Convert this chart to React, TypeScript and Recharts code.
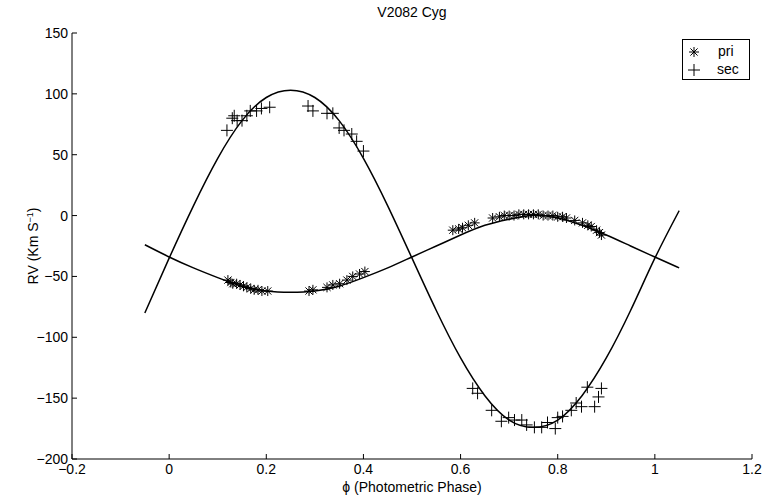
import React from 'react';
import {
  ComposedChart,
  Line,
  Scatter,
  XAxis,
  YAxis,
  Label,
} from 'recharts';

// model curves
const curvePhase = [
  -0.05, 0, 0.05, 0.1, 0.15, 0.2, 0.25, 0.3, 0.35, 0.4, 0.45, 0.5, 0.55, 0.6,
  0.65, 0.7, 0.75, 0.8, 0.85, 0.9, 0.95, 1.0, 1.05,
];
const priCurve = [
  -24, -34, -43, -51, -58, -62, -63, -62, -58, -51, -43, -34, -25, -16, -8, -3,
  0, -2, -8, -16, -25, -34, -43,
];
const secCurve = [
  -80, -35, 8, 47, 78, 97, 103, 97, 78, 47, 8, -35, -78, -117, -148, -168,
  -174, -168, -148, -117, -78, -35, 4,
];

// observed radial velocities
const priPhase = [
  0.121, 0.127, 0.131, 0.139, 0.146, 0.153, 0.16, 0.168, 0.175, 0.183, 0.191,
  0.203, 0.288, 0.296, 0.325, 0.337, 0.351, 0.366, 0.378, 0.392, 0.403, 0.584,
  0.596, 0.604, 0.616, 0.629, 0.666, 0.68, 0.69, 0.7, 0.71, 0.72, 0.73, 0.74,
  0.75, 0.76, 0.77, 0.78, 0.79, 0.8, 0.81, 0.818, 0.835, 0.851, 0.862, 0.869,
  0.88, 0.886, 0.89,
];
const priRV = [
  -53, -55, -56, -56, -57, -58, -59, -60, -61, -61, -62, -62, -62, -61, -59,
  -57, -56, -53, -50, -48, -46, -12, -11, -10, -8, -6, -2, -1, 0, 0, 0, 1, 1, 1,
  1, 1, 0, 0, 0, -1, -1, -2, -4, -6, -8, -9, -12, -14, -16,
];
const secPhase = [
  0.119, 0.13, 0.134, 0.14, 0.15, 0.16, 0.167, 0.18, 0.19, 0.207, 0.286, 0.296,
  0.325, 0.337, 0.35, 0.36, 0.376, 0.386, 0.4, 0.625, 0.635, 0.664, 0.684,
  0.699, 0.711, 0.726, 0.736, 0.752, 0.767, 0.779, 0.795, 0.8, 0.81, 0.828,
  0.838, 0.849, 0.861, 0.876, 0.884, 0.89,
];
const secRV = [
  70, 80, 82, 78, 78, 82, 86, 86, 88, 89, 90, 86, 84, 84, 72, 70, 67, 61, 53,
  -142, -146, -160, -169, -166, -168, -168, -172, -174, -174, -170, -175, -166,
  -165, -160, -154, -157, -141, -157, -149, -142,
];

const xTicks = [-0.2, 0, 0.2, 0.4, 0.6, 0.8, 1, 1.2];
const yTicks = [-200, -150, -100, -50, 0, 50, 100, 150];

const priLine = curvePhase.map((x, i) => ({ x, y: priCurve[i] }));
const secLine = curvePhase.map((x, i) => ({ x, y: secCurve[i] }));
const priPts = priPhase.map((x, i) => ({ x, y: priRV[i] }));
const secPts = secPhase.map((x, i) => ({ x, y: secRV[i] }));

const font = '"Liberation Sans", Arial, Helvetica, sans-serif';
const fmt = (v: number) => String(Number(v.toFixed(1))).replace('-', '\u2212');

const Star = ({ cx, cy }: any) => {
  const r = 5;
  const d = 3.6;
  return (
    <g stroke='#000' strokeWidth={1}>
      <line x1={cx - r} y1={cy} x2={cx + r} y2={cy} />
      <line x1={cx} y1={cy - r} x2={cx} y2={cy + r} />
      <line x1={cx - d} y1={cy - d} x2={cx + d} y2={cy + d} />
      <line x1={cx - d} y1={cy + d} x2={cx + d} y2={cy - d} />
    </g>
  );
};

const Plus = ({ cx, cy }: any) => {
  const r = 6;
  return (
    <g stroke='#000' strokeWidth={1}>
      <line x1={cx - r} y1={cy} x2={cx + r} y2={cy} />
      <line x1={cx} y1={cy - r} x2={cx} y2={cy + r} />
    </g>
  );
};

const YLabel = () => (
  <text
    x={0}
    y={0}
    transform='translate(38,246) rotate(-90)'
    textAnchor='middle'
    fontSize={14}
    fontFamily={font}
    fill='#000'
  >
    RV (Km S
    <tspan dy={-5} fontSize={9}>
      {'\u22121'}
    </tspan>
    <tspan dy={5}>)</tspan>
  </text>
);

const App = () => {
  return (
    <div
      style={{
        position: 'absolute',
        left: 0,
        top: 0,
        width: 766,
        height: 502,
        background: '#fff',
        fontFamily: font,
      }}
    >
      <ComposedChart
        width={766}
        height={502}
        margin={{ top: 33, right: 14, bottom: 13, left: 12 }}
      >
        <XAxis
          type='number'
          dataKey='x'
          domain={[-0.2, 1.2]}
          ticks={xTicks}
          interval={0}
          allowDataOverflow
          height={30}
          tickSize={-5}
          tickMargin={10}
          tickFormatter={fmt}
          stroke='#000'
          tick={{ fill: '#000', fontSize: 14, fontFamily: font }}
        >
          <Label
            value={'\u03d5 (Photometric Phase)'}
            position='bottom'
            offset={-7}
            fontSize={14}
            fontFamily={font}
            fill='#000'
          />
        </XAxis>
        <XAxis
          xAxisId='t'
          orientation='top'
          type='number'
          domain={[-0.2, 1.2]}
          ticks={xTicks}
          interval={0}
          allowDataOverflow
          height={0}
          tickSize={-5}
          tick={false}
          stroke='#000'
        />
        <YAxis
          type='number'
          domain={[-200, 150]}
          ticks={yTicks}
          interval={0}
          allowDataOverflow
          width={60}
          tickSize={-5}
          tickMargin={9}
          tickFormatter={fmt}
          stroke='#000'
          tick={{ fill: '#000', fontSize: 14, fontFamily: font }}
          label={{ content: () => <YLabel /> }}
        />
        <YAxis
          yAxisId='r'
          orientation='right'
          type='number'
          domain={[-200, 150]}
          ticks={yTicks}
          interval={0}
          allowDataOverflow
          width={0}
          tickSize={-5}
          tick={false}
          stroke='#000'
        />
        <Line
          data={secLine}
          dataKey='y'
          type='natural'
          stroke='#000'
          strokeWidth={1.5}
          dot={false}
          activeDot={false}
          isAnimationActive={false}
        />
        <Line
          data={priLine}
          dataKey='y'
          type='natural'
          stroke='#000'
          strokeWidth={1.5}
          dot={false}
          activeDot={false}
          isAnimationActive={false}
        />
        <Scatter
          data={priPts}
          dataKey='y'
          shape={(p: any) => <Star cx={p.cx} cy={p.cy} />}
          isAnimationActive={false}
        />
        <Scatter
          data={secPts}
          dataKey='y'
          shape={(p: any) => <Plus cx={p.cx} cy={p.cy} />}
          isAnimationActive={false}
        />
      </ComposedChart>

      <div
        style={{
          position: 'absolute',
          left: 0,
          top: 4,
          width: 824,
          textAlign: 'center',
          fontSize: 14,
          color: '#000',
        }}
      >
        V2082 Cyg
      </div>

      <div
        style={{
          position: 'absolute',
          left: 682,
          top: 39,
          width: 68,
          height: 41,
          border: '1px solid #000',
          background: '#fff',
          boxSizing: 'border-box',
          fontSize: 14,
          color: '#000',
        }}
      >
        <svg
          width={24}
          height={38}
          style={{ position: 'absolute', left: 0, top: 0 }}
        >
          <Star cx={11} cy={12} />
          <Plus cx={11} cy={30} />
        </svg>
        <div style={{ position: 'absolute', left: 35, top: 3 }}>pri</div>
        <div style={{ position: 'absolute', left: 34, top: 21 }}>sec</div>
      </div>
    </div>
  );
};

export default App;
